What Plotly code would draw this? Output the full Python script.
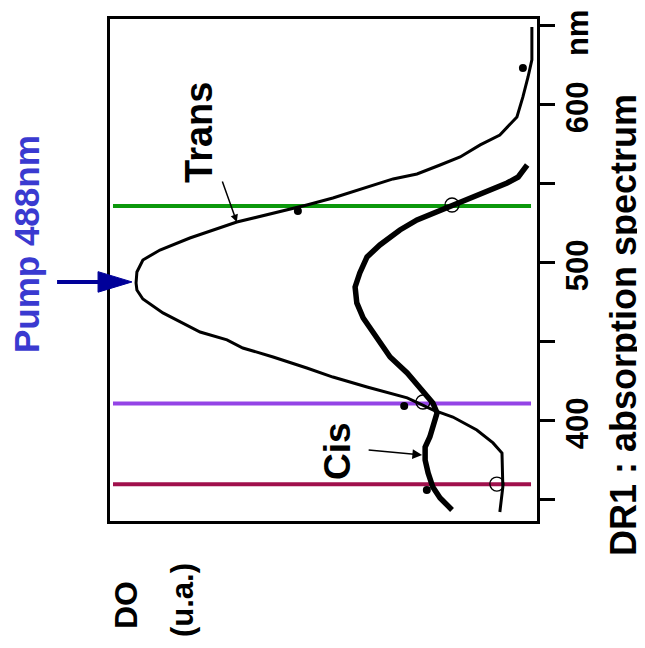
import plotly.graph_objects as go

# ---- data (wavelength in nm, optical density in a.u.) ----
TRANS_NM = [649.4, 628.5, 617.7, 605.1, 592.4, 581.0, 574.7, 567.1, 562.0, 556.3, 553.2,
            546.2, 541.1, 536.7, 530.4, 525.9, 515.8, 508.2, 501.9, 494.3, 487.3, 482.9,
            477.2, 468.4, 456.3, 451.3, 446.2, 440.5, 433.5, 427.8, 421.5, 417.7, 414.6,
            407.0, 402.5, 394.3, 386.1, 379.7, 367.1, 358.2, 342.4]
TRANS_DO = [0.012, 0.012, 0.021, 0.033, 0.047, 0.087, 0.133, 0.180, 0.227, 0.281, 0.337,
            0.422, 0.478, 0.539, 0.632, 0.703, 0.813, 0.883, 0.923, 0.937, 0.939, 0.937,
            0.923, 0.876, 0.789, 0.726, 0.689, 0.618, 0.539, 0.478, 0.398, 0.344, 0.304,
            0.244, 0.197, 0.141, 0.103, 0.082, 0.080, 0.080, 0.087]

CIS_NM = [562.0, 554.4, 550.6, 543.0, 536.7, 531.6, 527.2, 520.9, 516.5, 511.4, 503.8,
          493.7, 484.8, 474.7, 465.2, 453.2, 440.5, 430.4, 420.9, 411.4, 405.1, 396.2,
          389.9, 383.5, 375.3, 367.1, 358.2, 351.3, 343.7]
CIS_DO = [0.023, 0.044, 0.070, 0.141, 0.197, 0.244, 0.281, 0.321, 0.344, 0.368, 0.398,
          0.415, 0.426, 0.422, 0.407, 0.375, 0.344, 0.304, 0.274, 0.244, 0.234, 0.244,
          0.251, 0.262, 0.262, 0.255, 0.244, 0.227, 0.199]

FILLED_NM = [623.4, 532.9, 409.5, 356.3]
FILLED_DO = [0.033, 0.560, 0.311, 0.258]
OPEN_NM = [536.7, 412.0, 360.1]
OPEN_DO = [0.199, 0.267, 0.094]

PROBE_NM = [536, 411, 360]
PROBE_COLORS = ["#0c980c", "#9444e6", "#a0104c"]
PUMP_NM = 488

TICK_NM = [350, 400, 450, 500, 550, 600, 650]
TICK_TEXT = ["", "400", "", "500", "", "600", ""]
UNIT_TEXT = "nm"

FONT = "Liberation Sans, Arial, Helvetica, sans-serif"

fig = go.Figure()

fig.add_trace(go.Scatter(x=TRANS_DO, y=TRANS_NM, mode="lines",
                         line=dict(color="black", width=3), showlegend=False))
fig.add_trace(go.Scatter(x=CIS_DO, y=CIS_NM, mode="lines",
                         line=dict(color="black", width=5.5), showlegend=False))
fig.add_trace(go.Scatter(x=FILLED_DO, y=FILLED_NM, mode="markers",
                         marker=dict(color="black", size=8), showlegend=False))
fig.add_trace(go.Scatter(x=OPEN_DO, y=OPEN_NM, mode="markers",
                         marker=dict(symbol="circle-open", color="black", size=14,
                                     line=dict(width=1.3)), showlegend=False))

shapes = []
for nm, col in zip(PROBE_NM, PROBE_COLORS):
    shapes.append(dict(type="line", xref="paper", yref="y", x0=0.007, x1=0.986,
                       y0=nm, y1=nm, line=dict(color=col, width=4), layer="below"))

# pump arrow
shapes.append(dict(type="line", xref="paper", yref="y", x0=-0.124, x1=-0.02,
                   y0=PUMP_NM, y1=PUMP_NM, line=dict(color="#000099", width=4)))
shapes.append(dict(type="path", xref="paper", yref="y",
                   path=f"M -0.028,{PUMP_NM + 6.5} L 0.0515,{PUMP_NM} L -0.028,{PUMP_NM - 6.5} Z",
                   fillcolor="#000099", line=dict(color="#000099", width=1)))

annotations = [
    dict(text="<b>DR1 : absorption spectrum</b>", xref="paper", yref="paper",
         x=1.2014, y=0.3904, textangle=-90, showarrow=False,
         font=dict(family=FONT, size=36, color="black"), xanchor="center", yanchor="middle"),
    dict(text=f"<b>{UNIT_TEXT}</b>", xref="paper", yref="paper",
         x=1.0937, y=0.972, textangle=-90, showarrow=False,
         font=dict(family=FONT, size=31, color="black"), xanchor="center", yanchor="middle"),
    dict(text="<b>Pump 488nm</b>", xref="paper", yref="paper",
         x=-0.194, y=0.552, textangle=-90, showarrow=False,
         font=dict(family=FONT, size=35, color="#3a3ad0"), xanchor="center", yanchor="middle"),
    dict(text="<b>Trans</b>", xref="paper", yref="paper",
         x=0.2084, y=0.7749, textangle=-90, showarrow=False,
         font=dict(family=FONT, size=38, color="black"), xanchor="center", yanchor="middle"),
    dict(text="<b>Cis</b>", xref="paper", yref="paper",
         x=0.5316, y=0.1394, textangle=-90, showarrow=False,
         font=dict(family=FONT, size=37, color="black"), xanchor="center", yanchor="middle"),
    dict(text="<b>DO</b>", xref="paper", yref="paper",
         x=0.0375, y=-0.1673, textangle=-90, showarrow=False,
         font=dict(family=FONT, size=32, color="black"), xanchor="center", yanchor="middle"),
    dict(text="<b>(u.a.)</b>", xref="paper", yref="paper",
         x=0.1686, y=-0.1574, textangle=-90, showarrow=False,
         font=dict(family=FONT, size=31, color="black"), xanchor="center", yanchor="middle"),
    # pointer arrows
    dict(text="", x=0.703, y=525.9, xref="x", yref="y", ax=-15, ay=-42,
         showarrow=True, arrowhead=2, arrowsize=1, arrowwidth=1.5, arrowcolor="black"),
    dict(text="", x=0.269, y=378.5, xref="x", yref="y", ax=-55, ay=-5,
         showarrow=True, arrowhead=2, arrowsize=1.3, arrowwidth=1.5, arrowcolor="black"),
]

# the page adds an 8px body margin, so the figure is 8px smaller and margins shifted
fig.update_layout(
    width=637, height=640,
    margin=dict(l=102, r=108, t=11, b=127),
    paper_bgcolor="white", plot_bgcolor="white",
    shapes=shapes, annotations=annotations,
    xaxis=dict(range=[1.0, 0.0], showgrid=False, zeroline=False, showticklabels=False,
               ticks="", showline=True, mirror=True, linecolor="black", linewidth=3,
               automargin=False),
    yaxis=dict(range=[336.7, 654.4], side="right", showgrid=False, zeroline=False,
               tickmode="array", tickvals=TICK_NM, ticktext=TICK_TEXT,
               ticks="outside", ticklen=15, tickwidth=2.5, tickcolor="black",
               tickangle=-90, tickfont=dict(family=FONT, size=31, color="black", weight="bold"),
               ticklabelstandoff=-4, ticklabelshift=7, ticklabeloverflow="allow",
               showline=True, mirror=True, linecolor="black", linewidth=3,
               automargin=False),
)

fig.write_html("out.html")
